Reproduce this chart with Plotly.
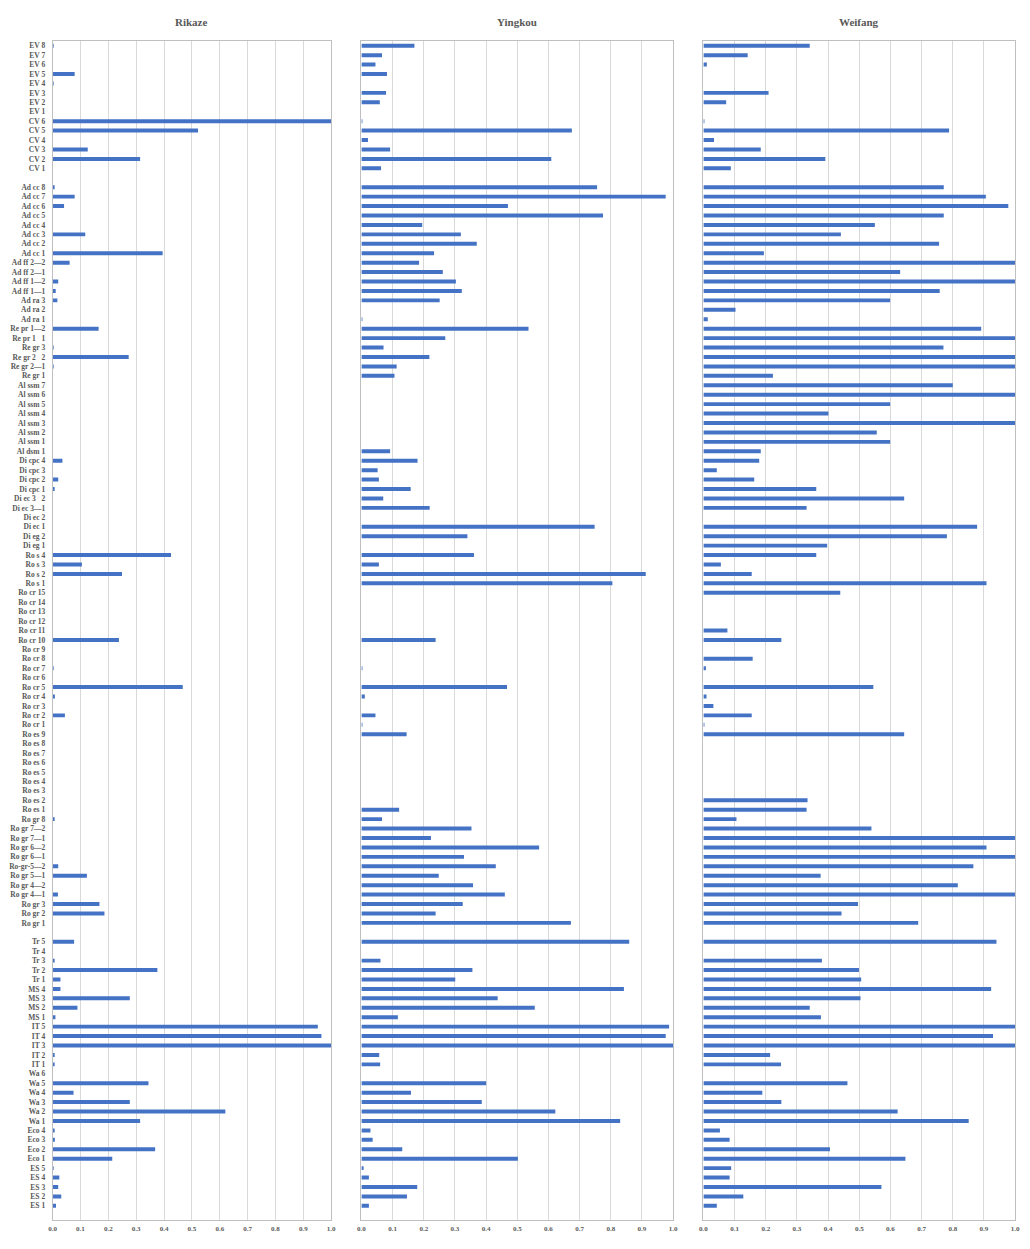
import plotly.graph_objects as go

# categories, top to bottom (blank strings are the empty rows)
categories = [
    "EV 8", "EV 7", "EV 6", "EV 5", "EV 4", "EV 3", "EV 2", "EV 1",
    "CV 6", "CV 5", "CV 4", "CV 3", "CV 2", "CV 1",
    " ",
    "Ad cc 8", "Ad cc 7", "Ad cc 6", "Ad cc 5", "Ad cc 4", "Ad cc 3", "Ad cc 2", "Ad cc 1",
    "Ad ff 2—2", "Ad ff 2—1", "Ad ff 1—2", "Ad ff 1—1",
    "Ad ra 3", "Ad ra 2", "Ad ra 1",
    "Re pr 1—2", "Re pr 1   1",
    "Re gr 3", "Re gr 2   2", "Re gr 2—1", "Re gr 1",
    "Al ssm 7", "Al ssm 6", "Al ssm 5", "Al ssm 4", "Al ssm 3", "Al ssm 2", "Al ssm 1",
    "Al dsm 1",
    "Di cpc 4", "Di cpc 3", "Di cpc 2", "Di cpc 1",
    "Di ec 3   2", "Di ec 3—1", "Di ec 2", "Di ec 1",
    "Di eg 2", "Di eg 1",
    "Ro s 4", "Ro s 3", "Ro s 2", "Ro s 1",
    "Ro cr 15", "Ro cr 14", "Ro cr 13", "Ro cr 12", "Ro cr 11", "Ro cr 10", "Ro cr 9",
    "Ro cr 8", "Ro cr 7", "Ro cr 6", "Ro cr 5", "Ro cr 4", "Ro cr 3", "Ro cr 2", "Ro cr 1",
    "Ro es 9", "Ro es 8", "Ro es 7", "Ro es 6", "Ro es 5", "Ro es 4", "Ro es 3", "Ro es 2", "Ro es 1",
    "Ro gr 8", "Ro gr 7—2", "Ro gr 7—1", "Ro gr 6—2", "Ro gr 6—1", "Ro-gr-5—2", "Ro gr 5—1",
    "Ro gr 4—2", "Ro gr 4—1", "Ro gr 3", "Ro gr 2", "Ro gr 1",
    "  ",
    "Tr 5", "Tr 4", "Tr 3", "Tr 2", "Tr 1",
    "MS 4", "MS 3", "MS 2", "MS 1",
    "IT 5", "IT 4", "IT 3", "IT 2", "IT 1",
    "Wa 6", "Wa 5", "Wa 4", "Wa 3", "Wa 2", "Wa 1",
    "Eco 4", "Eco 3", "Eco 2", "Eco 1",
    "ES 5", "ES 4", "ES 3", "ES 2", "ES 1",
    "   ",
]

rikaze = [
    0.002, 0, 0, 0.079, 0.002, 0, 0, 0,
    1.0, 0.522, 0, 0.126, 0.314, 0,
    0,
    0.006, 0.079, 0.041, 0, 0, 0.117, 0, 0.395,
    0.061, 0, 0.020, 0.011,
    0.017, 0, 0,
    0.165, 0,
    0.002, 0.273, 0.002, 0,
    0, 0, 0, 0, 0, 0, 0,
    0,
    0.035, 0, 0.020, 0.005,
    0, 0, 0, 0,
    0, 0,
    0.425, 0.105, 0.249, 0,
    0, 0, 0, 0, 0, 0.238, 0,
    0, 0.002, 0, 0.467, 0.008, 0, 0.044, 0,
    0, 0, 0, 0, 0, 0, 0, 0, 0,
    0.005, 0, 0, 0, 0, 0.020, 0.123,
    0, 0.019, 0.168, 0.186, 0,
    0,
    0.077, 0, 0.007, 0.376, 0.028,
    0.028, 0.277, 0.089, 0.010,
    0.952, 0.965, 1.0, 0.004, 0.004,
    0, 0.344, 0.075, 0.277, 0.620, 0.314,
    0.004, 0.008, 0.368, 0.214,
    0.001, 0.024, 0.020, 0.031, 0.012,
    0,
]

yingkou = [
    0.170, 0.066, 0.045, 0.082, 0, 0.079, 0.059, 0,
    0.002, 0.675, 0.021, 0.092, 0.609, 0.063,
    0,
    0.756, 0.976, 0.470, 0.775, 0.195, 0.319, 0.370, 0.233,
    0.185, 0.261, 0.303, 0.322,
    0.251, 0, 0.002,
    0.536, 0.269,
    0.071, 0.218, 0.113, 0.106,
    0, 0, 0, 0, 0, 0, 0,
    0.092,
    0.180, 0.052, 0.056, 0.158,
    0.070, 0.219, 0, 0.748,
    0.340, 0,
    0.361, 0.056, 0.912, 0.805,
    0, 0, 0, 0, 0, 0.238, 0,
    0, 0.003, 0, 0.467, 0.011, 0, 0.045, 0.002,
    0.145, 0, 0, 0, 0, 0, 0, 0, 0.121,
    0.066, 0.353, 0.223, 0.570, 0.329, 0.431, 0.248,
    0.358, 0.460, 0.325, 0.238, 0.672,
    0,
    0.859, 0, 0.061, 0.356, 0.301,
    0.842, 0.437, 0.556, 0.117,
    0.987, 0.976, 1.0, 0.057, 0.060,
    0, 0.400, 0.159, 0.386, 0.622, 0.830,
    0.029, 0.036, 0.131, 0.502,
    0.007, 0.024, 0.179, 0.146, 0.024,
    0,
]

weifang = [
    0.341, 0.142, 0.011, 0, 0, 0.209, 0.073, 0,
    0.002, 0.788, 0.034, 0.184, 0.391, 0.088,
    0,
    0.771, 0.906, 0.978, 0.771, 0.550, 0.441, 0.756, 0.194,
    1.0, 0.631, 1.0, 0.758,
    0.599, 0.103, 0.014,
    0.891, 1.0,
    0.770, 1.0, 1.0, 0.223,
    0.800, 1.0, 0.599, 0.401, 1.0, 0.556, 0.599,
    0.184,
    0.179, 0.043, 0.163, 0.362,
    0.644, 0.331, 0, 0.878,
    0.781, 0.397,
    0.362, 0.056, 0.155, 0.908,
    0.439, 0, 0, 0, 0.077, 0.250, 0,
    0.158, 0.008, 0, 0.545, 0.010, 0.032, 0.155, 0.002,
    0.644, 0, 0, 0, 0, 0, 0, 0.334, 0.331,
    0.106, 0.539, 1.0, 0.908, 1.0, 0.866, 0.376,
    0.816, 1.0, 0.496, 0.443, 0.689,
    0,
    0.940, 0, 0.380, 0.499, 0.506,
    0.923, 0.504, 0.341, 0.377,
    1.0, 0.929, 1.0, 0.214, 0.249,
    0, 0.462, 0.189, 0.250, 0.623, 0.851,
    0.053, 0.084, 0.406, 0.648,
    0.089, 0.084, 0.571, 0.128, 0.043,
    0,
]

panels = ["Rikaze", "Yingkou", "Weifang"]
series = [rikaze, yingkou, weifang]
tick_vals = [i / 10 for i in range(11)]
tick_text = ["%.1f" % v for v in tick_vals]

W, H = 1030, 1249
OFF = 8  # page body margin, figure sits 8px in from the window corner
# panel edges in page pixels (slightly spread to offset the screenshot squeeze)
x_px = [(49, 330), (360.5, 675), (705.5, 1020)]
x_domains = [((a - OFF) / W, (b - OFF) / W) for a, b in x_px]
y_dom = [1 - (1220 - OFF) / H, 1 - (41 - OFF) / H]

BLUE = "#4472C4"
GREY_TXT = "#595959"
SERIF = "Liberation Serif, Times New Roman, serif"

fig = go.Figure()
layout = dict(
    width=W, height=H,
    margin=dict(l=0, r=0, t=0, b=0),
    paper_bgcolor="white", plot_bgcolor="white",
    showlegend=False,
    bargap=0.58,
    annotations=[],
)

for i, (name, vals) in enumerate(zip(panels, series)):
    sfx = "" if i == 0 else str(i + 1)
    fig.add_trace(go.Bar(
        x=vals, y=categories, orientation="h",
        marker=dict(color=BLUE, line=dict(width=0)),
        xaxis="x" + sfx, yaxis="y" + sfx,
    ))
    d0, d1 = x_domains[i]
    layout["xaxis" + sfx] = dict(
        domain=[d0, d1], range=[0, 1], anchor="y" + sfx,
        tickvals=tick_vals, ticktext=tick_text,
        tickfont=dict(family=SERIF, size=7, color=GREY_TXT, weight="bold"),
        ticks="", ticklabelstandoff=2,
        showgrid=True, gridcolor="#d9d9d9", gridwidth=1,
        showline=True, linecolor="#bfbfbf", linewidth=1, mirror=True,
        zeroline=False, fixedrange=True,
    )
    layout["yaxis" + sfx] = dict(
        domain=y_dom, anchor="x" + sfx,
        type="category", categoryorder="array", categoryarray=categories,
        autorange="reversed",
        showticklabels=(i == 0),
        tickfont=dict(family=SERIF, size=7.5, color=GREY_TXT, weight="bold"),
        ticks="", ticklabelstandoff=5,
        showgrid=False,
        showline=True, linecolor="#bfbfbf", linewidth=1, mirror=True,
        zeroline=False, fixedrange=True,
    )
    layout["annotations"].append(dict(
        text="<b>%s</b>" % name, x=(d0 + d1) / 2, y=1 - (22 - OFF) / H,
        xref="paper", yref="paper", showarrow=False,
        xanchor="center", yanchor="middle",
        font=dict(family=SERIF, size=11, color=GREY_TXT),
    ))

fig.update_layout(**layout)
fig.write_html("out.html")
